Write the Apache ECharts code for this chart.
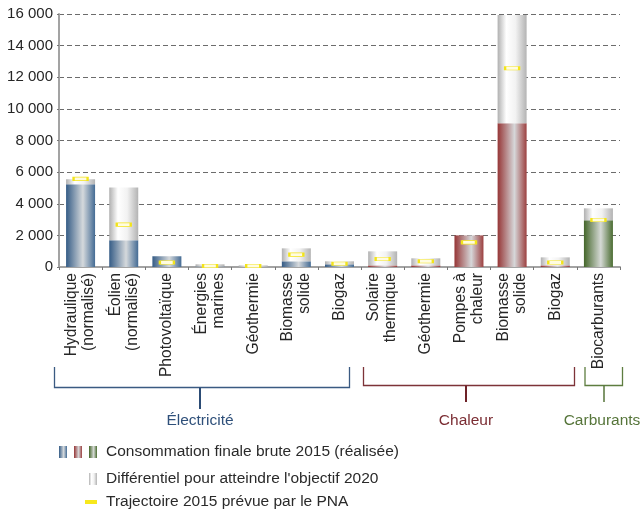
<!DOCTYPE html>
<html>
<head>
<meta charset="utf-8">
<script src="https://cdn.jsdelivr.net/npm/echarts@6/dist/echarts.min.js"></script>
<style>html,body{margin:0;padding:0;background:#fff}#c{width:641px;height:509px}</style>
</head>
<body>
<div id="c"></div>
<script>
// ---- data ----
var categories = ['Hydraulique\n(normalisé)', 'Éolien\n(normalisé)', 'Photovoltaïque', 'Énergies\nmarines', 'Géothermie', 'Biomasse\nsolide', 'Biogaz', 'Solaire\nthermique', 'Géothermie', 'Pompes à\nchaleur', 'Biomasse\nsolide', 'Biogaz', 'Biocarburants'];
var groups = ['elec', 'elec', 'elec', 'elec', 'elec', 'elec', 'elec', 'chal', 'chal', 'chal', 'chal', 'chal', 'carb'];
var realise2015 = [5230, 1690, 680, 30, 10, 360, 170, 100, 100, 2000, 9090, 100, 2950];
var differentiel2020 = [320, 3330, 0, 140, 90, 820, 190, 890, 450, 0, 6850, 510, 760];
var trajectoirePNA = [5570, 2680, 280, 60, 60, 780, 210, 510, 360, 1560, 12570, 280, 2970];
var yTicks = [0, 2000, 4000, 6000, 8000, 10000, 12000, 14000, 16000];
var groupLabels = ['Électricité', 'Chaleur', 'Carburants'];
var seriesNames = ['Consommation finale brute 2015 (réalisée)', "Différentiel pour atteindre l'objectif 2020", 'Trajectoire 2015 prévue par le PNA'];

// ---- styles ----
var FONT = '"Liberation Sans", Arial, Helvetica, sans-serif';
function grad(stops) {
  return new echarts.graphic.LinearGradient(0, 0, 1, 0, stops.map(function (s) { return { offset: s[0], color: s[1] }; }));
}
var groupColors = {
  elec: function () { return grad([[0, '#355c86'], [0.58, '#d5d9dc'], [1, '#446b94']]); },
  chal: function () { return grad([[0, '#963636'], [0.58, '#d6d7d9'], [1, '#9c4040']]); },
  carb: function () { return grad([[0, '#44662a'], [0.58, '#d5d9d5'], [1, '#4a6c31']]); }
};
function whiteGrad() { return grad([[0, '#b0b0b0'], [0.3, '#ffffff'], [0.62, '#f2f2f2'], [1, '#b3b3b3']]); }

var realData = realise2015.map(function (v, i) {
  return { value: v, itemStyle: { color: groupColors[groups[i]]() } };
});

var chart = echarts.init(document.getElementById('c'), null, { renderer: 'canvas' });
var option = {
  animation: false,
  textStyle: { fontFamily: FONT },
  grid: { left: 59, right: 21, top: 14, bottom: 242, containLabel: false },
  xAxis: {
    type: 'category',
    data: categories,
    axisLine: { lineStyle: { color: '#a3a3a3', width: 2 } },
    axisTick: { show: true, length: 3, lineStyle: { color: '#777' } },
    axisLabel: {
      rotate: 90, interval: 0, margin: 6,
      fontSize: 15.6, lineHeight: 17, color: '#262626', fontFamily: FONT
    }
  },
  yAxis: {
    type: 'value', min: 0, max: 16000, interval: 2000,
    axisLine: { show: true, lineStyle: { color: '#a3a3a3', width: 2 } },
    axisTick: { show: true, length: 2, lineStyle: { color: '#777' } },
    splitLine: { lineStyle: { color: '#6c6c6c', type: [5, 3], width: 1 } },
    axisLabel: {
      fontSize: 15, color: '#262626', margin: 6, fontFamily: FONT,
      formatter: function (v) { return String(v).replace(/\B(?=(\d{3})+(?!\d))/g, ' '); }
    }
  },
  legend: [
    { data: [{ name: seriesNames[0], icon: 'rect', itemStyle: { color: groupColors.carb(), borderWidth: 0 } }],
      left: 89, top: 444, padding: 0, itemWidth: 8, itemHeight: 12, selectedMode: false,
      textStyle: { fontSize: 15.5, color: '#2a2a2a', fontFamily: FONT, padding: [0, 0, 0, 4] } },
    { data: [{ name: seriesNames[1], icon: 'rect', itemStyle: { color: whiteGrad(), borderWidth: 0 } }],
      left: 89, top: 471, padding: 0, itemWidth: 8, itemHeight: 12, selectedMode: false,
      textStyle: { fontSize: 15.5, color: '#2a2a2a', fontFamily: FONT, padding: [0, 0, 0, 4] } },
    { data: [{ name: seriesNames[2], icon: 'rect', itemStyle: { color: '#f7e81c', borderWidth: 0 } }],
      left: 85, top: 494, padding: 0, itemWidth: 12, itemHeight: 4, selectedMode: false,
      textStyle: { fontSize: 15.5, color: '#2a2a2a', fontFamily: FONT, padding: [0, 0, 0, 4] } }
  ],
  series: [
    { name: seriesNames[0], type: 'bar', stack: 'tot', barWidth: 29, data: realData },
    { name: seriesNames[1], type: 'bar', stack: 'tot', barWidth: 29,
      itemStyle: { color: whiteGrad() }, data: differentiel2020 },
    { name: seriesNames[2], type: 'scatter', symbol: 'rect', symbolSize: [14, 3.5], z: 5,
      itemStyle: { color: '#fffce0', borderColor: '#f3e41a', borderWidth: 1.2, opacity: 1 },
      data: trajectoirePNA }
  ],
  graphic: [
    // extra legend icons (blue, red)
    { type: 'rect', shape: { x: 59, y: 446, width: 8, height: 12 }, style: { fill: groupColors.elec() } },
    { type: 'rect', shape: { x: 74, y: 446, width: 8, height: 12 }, style: { fill: groupColors.chal() } },
    // group brackets
    { type: 'polyline', shape: { points: [[54.5, 367], [54.5, 387.5], [349.5, 387.5], [349.5, 367]] },
      style: { stroke: '#3a5a82', lineWidth: 1.3, fill: null } },
    { type: 'line', shape: { x1: 200, y1: 387.5, x2: 200, y2: 409 }, style: { stroke: '#2c4c75', lineWidth: 2 } },
    { type: 'text', style: { text: groupLabels[0], x: 200, y: 421, align: 'center', verticalAlign: 'middle', fill: '#2f507a', font: '15.5px ' + FONT } },
    { type: 'polyline', shape: { points: [[363.5, 367], [363.5, 385.5], [574.5, 385.5], [574.5, 367]] },
      style: { stroke: '#7d3338', lineWidth: 1.3, fill: null } },
    { type: 'line', shape: { x1: 466, y1: 385.5, x2: 466, y2: 402 }, style: { stroke: '#6e2228', lineWidth: 2 } },
    { type: 'text', style: { text: groupLabels[1], x: 466, y: 421, align: 'center', verticalAlign: 'middle', fill: '#7b2d33', font: '15.5px ' + FONT } },
    { type: 'polyline', shape: { points: [[585, 367], [585, 385.5], [622.5, 385.5], [622.5, 367]] },
      style: { stroke: '#5e7d40', lineWidth: 1.3, fill: null } },
    { type: 'line', shape: { x1: 604, y1: 385.5, x2: 604, y2: 402 }, style: { stroke: '#56753a', lineWidth: 1.5 } },
    { type: 'text', style: { text: groupLabels[2], x: 602, y: 421, align: 'center', verticalAlign: 'middle', fill: '#56753a', font: '15.5px ' + FONT } }
  ]
};
chart.setOption(option);
</script>
</body>
</html>
